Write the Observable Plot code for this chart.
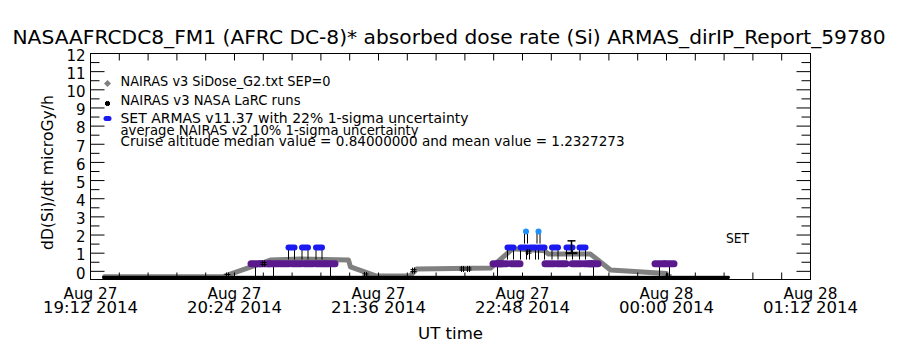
<!DOCTYPE html>
<html><head><meta charset="utf-8">
<script src="https://cdn.jsdelivr.net/npm/d3@7"></script>
<script src="https://cdn.jsdelivr.net/npm/@observablehq/plot@0.6"></script>
<style>body{margin:0;background:#fff} svg{display:block}</style>
</head><body><div id="chart"></div>
<script>
// ---- text ----
const titleText = "NASAAFRCDC8_FM1 (AFRC DC-8)* absorbed dose rate (Si) ARMAS_dirIP_Report_59780";
const yLabelText = "dD(Si)/dt microGy/h";
const xLabelText = "UT time";
const legendLabels = [
  "NAIRAS v3 SiDose_G2.txt SEP=0",
  "NAIRAS v3 NASA LaRC runs",
  "SET ARMAS v11.37 with 22% 1-sigma uncertainty",
  "average NAIRAS v2 10% 1-sigma uncertainty",
  "Cruise altitude median value = 0.84000000 and mean value = 1.2327273"
];
const setLabel = "SET";

// ---- axes ----
const yTicks = [0,1,2,3,4,5,6,7,8,9,10,11,12];
const yMinorTicks = [0.5,1.5,2.5,3.5,4.5,5.5,6.5,7.5,8.5,9.5,10.5,11.5];
const xTicks = ["2014-08-27T19:12:00Z","2014-08-27T20:24:00Z","2014-08-27T21:36:00Z","2014-08-27T22:48:00Z","2014-08-28T00:00:00Z","2014-08-28T01:12:00Z"];
const xTickDates = ["Aug 27","Aug 27","Aug 27","Aug 27","Aug 28","Aug 28"];
const xTickTimes = ["19:12 2014","20:24 2014","21:36 2014","22:48 2014","00:00 2014","01:12 2014"];

// ---- NAIRAS v3 SiDose_G2 (grey) ----
const sidoseTime = ["2014-08-27T19:19:00Z","2014-08-27T20:18:00Z","2014-08-27T20:42:00Z","2014-08-27T20:57:00Z","2014-08-27T21:21:00Z","2014-08-27T21:22:00Z","2014-08-27T21:35:00Z","2014-08-27T21:52:00Z","2014-08-27T21:55:00Z","2014-08-27T22:32:00Z","2014-08-27T22:43:00Z","2014-08-27T22:59:00Z","2014-08-27T23:01:00Z","2014-08-27T23:22:00Z","2014-08-27T23:32:00Z","2014-08-28T00:00:00Z"];
const sidoseValue = [-0.3,-0.3,0.62,0.68,0.62,0.24,-0.26,-0.24,0.13,0.18,1.24,1.14,0.95,0.95,0.07,-0.12];

// ---- NAIRAS v3 NASA LaRC runs (#) ----
const larcTime = ["2014-08-27T20:20:30Z","2014-08-27T20:38:30Z","2014-08-27T21:29:30Z","2014-08-27T21:53:30Z","2014-08-27T22:18:00Z","2014-08-27T22:21:00Z","2014-08-27T22:51:00Z","2014-08-28T00:01:00Z"];
const larcValue = [-0.23,0.43,-0.2,0.04,0.13,0.13,1.06,-0.26];

// ---- ARMAS low-altitude record ----
const armasLowTime = ["2014-08-27T19:18:30Z","2014-08-28T00:31:00Z"];
const armasLowValue = [-0.33,-0.33];

// ---- SET ARMAS v11.37 ----
const purpleTime = ["2014-08-27T20:34:30Z","2014-08-27T20:39:00Z","2014-08-27T20:43:30Z","2014-08-27T20:49:00Z","2014-08-27T20:55:00Z","2014-08-27T21:01:00Z","2014-08-27T21:07:00Z","2014-08-27T21:12:00Z",
  "2014-08-27T22:35:30Z","2014-08-27T22:38:00Z","2014-08-27T22:44:30Z","2014-08-27T23:01:30Z","2014-08-27T23:07:30Z","2014-08-27T23:15:00Z","2014-08-27T23:21:00Z","2014-08-27T23:23:30Z","2014-08-27T23:56:30Z","2014-08-28T00:01:30Z"];
const purpleValue = [0.42,0.42,0.42,0.42,0.42,0.42,0.42,0.42, 0.42,0.42,0.42,0.42,0.42,0.42,0.42,0.42,0.42,0.42];
const purpleLo = [-0.33,null,-0.33,null,null,null,null,-0.33, -0.33,null,null,null,null,null,null,-0.33,-0.33,-0.33];

const blueTime = ["2014-08-27T20:52:30Z","2014-08-27T20:59:15Z","2014-08-27T21:06:15Z","2014-08-27T22:42:00Z","2014-08-27T22:48:30Z","2014-08-27T22:53:00Z","2014-08-27T22:57:30Z","2014-08-27T23:04:15Z","2014-08-27T23:11:30Z","2014-08-27T23:18:00Z"];
const blueValue = [1.31,1.31,1.31,1.31,1.31,1.31,1.31,1.31,1.31,1.31];
const blueLo = [0.62,0.62,0.62,0.62,0.62,0.62,0.62,0.62,0.62,0.62];

const lightTime = ["2014-08-27T22:49:45Z","2014-08-27T22:56:00Z"];
const lightValue = [2.19,2.19];
const lightLo = [1.5,1.5];

// ---- average NAIRAS v2 with uncertainty ----
const v2Time = ["2014-08-27T23:12:30Z"];
const v2Lo = [1.0];
const v2Hi = [1.68];

// ---- build tables ----
const P = s => new Date(s);
const sidose = sidoseTime.map((t,i)=>({t:P(t), v:sidoseValue[i]}));
const larc = larcTime.map((t,i)=>({t:P(t), v:larcValue[i]}));
const armasLow = armasLowTime.map((t,i)=>({t:P(t), v:armasLowValue[i]}));
const purple = purpleTime.map((t,i)=>({t:P(t), v:purpleValue[i], lo:purpleLo[i]}));
const blue = blueTime.map((t,i)=>({t:P(t), v:blueValue[i], lo:blueLo[i]}));
const light = lightTime.map((t,i)=>({t:P(t), v:lightValue[i], lo:lightLo[i]}));
const v2 = v2Time.map((t,i)=>({t:P(t), lo:v2Lo[i], hi:v2Hi[i]}));
const xMajor = xTicks.map(P);
const xMinor = [];
for (let i = 0; i < xMajor.length - 1; i++) for (let k = 1; k < 5; k++) xMinor.push(new Date(+xMajor[i] + k * 14.4 * 60000));

// ---- custom symbols ----
const pill = (w,h) => ({draw(ctx){ const r=h/2, a=Math.max(0,w/2-r);
  ctx.moveTo(-a,-r); ctx.lineTo(a,-r); ctx.arc(a,0,r,-Math.PI/2,Math.PI/2);
  ctx.lineTo(-a,r); ctx.arc(-a,0,r,Math.PI/2,Math.PI*1.5); ctx.closePath(); }});
const seg = (x0,y0,x1,y1) => ({draw(ctx){ ctx.moveTo(x0,y0); ctx.lineTo(x1,y1); }});
const hash = s => ({draw(ctx){
  ctx.moveTo(-s,-s/3); ctx.lineTo(s,-s/3); ctx.moveTo(-s,s/3); ctx.lineTo(s,s/3);
  ctx.moveTo(-s/3,-s); ctx.lineTo(-s/3,s); ctx.moveTo(s/3,-s); ctx.lineTo(s/3,s); }});
const diamond = s => ({draw(ctx){ ctx.moveTo(0,-s); ctx.lineTo(s,0); ctx.lineTo(0,s); ctx.lineTo(-s,0); ctx.closePath(); }});

const PURPLE = "#5a1a8e", BLUE = "#1a1af0", LIGHT = "#1e90ff";
const FONT = "DejaVu Sans";
const tickMark = (data, anchor, sym, chan) => Plot.dot(data, {[chan]: d=>d, frameAnchor: anchor, symbol: sym, stroke: "black", fill: "none", strokeWidth: 1});

const legendDy = [28, 47, 65, 77.5, 88.5];

const chart = Plot.plot({
  width: 900, height: 350,
  marginTop: 53, marginBottom: 71, marginLeft: 90, marginRight: 90,
  style: {fontFamily: FONT, background: "white", color: "black"},
  x: {type: "utc", domain: [xMajor[0], xMajor[xMajor.length-1]], axis: null},
  y: {domain: [-0.45, 12], axis: null},
  marks: [
    // data
    Plot.line(sidose, {x:"t", y:"v", stroke:"url(#checker)", strokeWidth:5, strokeLinejoin:"round"}),
    Plot.line(armasLow, {x:"t", y:"v", stroke:"black", strokeWidth:3, strokeDasharray:"1 1"}),
    Plot.line(armasLow, {x:"t", y:"v", stroke:"black", strokeWidth:1.5, dy:1}),
    Plot.ruleX(purple.filter(d=>d.lo!=null), {x:"t", y1:"lo", y2:"v", stroke:"black"}),
    Plot.ruleX(blue, {x:"t", y1:"lo", y2:"v", stroke:"black", dx:-3}),
    Plot.ruleX(blue, {x:"t", y1:"lo", y2:"v", stroke:"black", dx:3}),
    Plot.ruleX(light, {x:"t", y1:"lo", y2:"v", stroke:"black", dx:-1.5}),
    Plot.ruleX(light, {x:"t", y1:"lo", y2:"v", stroke:"black", dx:1.5}),
    Plot.dot(purple, {x:"t", y:"v", symbol: pill(16,7), fill: PURPLE, stroke: "none"}),
    Plot.dot(blue, {x:"t", y:"v", symbol: pill(12,6), fill: BLUE, stroke: "none"}),
    Plot.dot(light, {x:"t", y:"v", symbol: pill(6,6), fill: LIGHT, stroke: "none"}),
    Plot.ruleX(v2, {x:"t", y1:"lo", y2:"hi", stroke:"black", strokeWidth:1.5}),
    Plot.dot(v2, {x:"t", y:"hi", symbol: seg(-4,0,4,0), stroke:"black", fill:"none", strokeWidth:1.5}),
    Plot.dot(v2, {x:"t", y:"lo", symbol: seg(-6,0,6,0), stroke:"black", fill:"none", strokeWidth:2}),
    Plot.dot(larc, {x:"t", y:"v", symbol: hash(3), stroke:"black", fill:"none", strokeWidth:1}),
    // frame and ticks
    Plot.frame({stroke:"black", strokeWidth:1}),
    tickMark(yTicks, "left", seg(0,0,14,0), "y"),
    tickMark(yMinorTicks, "left", seg(0,0,9,0), "y"),
    tickMark(yTicks, "right", seg(0,0,-14,0), "y"),
    tickMark(yMinorTicks, "right", seg(0,0,-9,0), "y"),
    tickMark(xMajor, "bottom", seg(0,0,0,-7), "x"),
    tickMark(xMinor, "bottom", seg(0,0,0,-7), "x"),
    tickMark(xMajor, "top", seg(0,0,0,7), "x"),
    tickMark(xMinor, "top", seg(0,0,0,7), "x"),
    // tick labels
    Plot.text(yTicks, {y: d=>d, frameAnchor:"left", dx:-5, dy:2.5, text: d=>String(d), textAnchor:"end", lineAnchor:"middle", fontSize:15, fill:"black"}),
    Plot.text(xMajor, {x: d=>d, frameAnchor:"bottom", dy:15, text: (d,i)=>xTickDates[i], textAnchor:"middle", lineAnchor:"middle", fontSize:15, fill:"black"}),
    Plot.text(xMajor, {x: d=>d, frameAnchor:"bottom", dy:29, text: (d,i)=>xTickTimes[i], textAnchor:"middle", lineAnchor:"middle", fontSize:15, fill:"black"}),
    // titles
    Plot.text([titleText], {frameAnchor:"top", dx:-1.5, dy:-16, text:d=>d, textAnchor:"middle", lineAnchor:"middle", fontSize:19, fill:"black"}),
    Plot.text([yLabelText], {frameAnchor:"left", dx:-43, dy:6, rotate:-90, text:d=>d, textAnchor:"middle", lineAnchor:"middle", fontSize:16, fill:"black"}),
    Plot.text([xLabelText], {frameAnchor:"bottom", dy:54, text:d=>d, textAnchor:"middle", lineAnchor:"middle", fontSize:16, fill:"black"}),
    Plot.text([setLabel], {frameAnchor:"top-left", dx:647, dy:185, text:d=>d, textAnchor:"middle", lineAnchor:"middle", fontSize:14, fill:"black"}),
    // legend
    ...legendLabels.map((s,i)=>Plot.text([s], {frameAnchor:"top-left", dx:30, dy:legendDy[i], text:d=>d, textAnchor:"start", lineAnchor:"middle", fontSize:13.5, fill:"black"})),
    Plot.dot([0], {frameAnchor:"top-left", dx:17, dy:30, symbol: diamond(3.5), fill:"url(#checker)", stroke:"none"}),
    Plot.dot([0], {frameAnchor:"top-left", dx:17, dy:50, symbol: hash(2.5), stroke:"black", fill:"none"}),
    Plot.dot([0], {frameAnchor:"top-left", dx:17, dy:65, symbol: pill(8,5), fill: BLUE, stroke:"none"})
  ]
});

// checker pattern for the NAIRAS v3 grey curve
const ns = "http://www.w3.org/2000/svg";
const defs = document.createElementNS(ns, "defs");
defs.innerHTML = '<pattern id="checker" patternUnits="userSpaceOnUse" width="2" height="2"><rect x="0" y="0" width="1" height="1" fill="black"/><rect x="1" y="1" width="1" height="1" fill="black"/><rect x="1" y="0" width="1" height="1" fill="white"/><rect x="0" y="1" width="1" height="1" fill="white"/></pattern>';
chart.insertBefore(defs, chart.firstChild);

// match text widths of the reference's stroke font
const widths = new Map([[titleText, 873], [legendLabels[0], 210], [legendLabels[1], 180], [legendLabels[2], 348], [legendLabels[3], 298], [legendLabels[4], 504], [xLabelText, 65], [yLabelText, 155], [setLabel, 23]]);
chart.querySelectorAll("text").forEach(t => {
  const s = t.textContent;
  let w = widths.get(s);
  if (!w && /^\d\d:\d\d 2014$/.test(s)) w = 95;
  if (!w && /^Aug \d\d$/.test(s)) w = 54;
  if (w) { t.setAttribute("textLength", w); t.setAttribute("lengthAdjust", "spacingAndGlyphs"); }
});
document.getElementById("chart").appendChild(chart);
</script></body></html>
